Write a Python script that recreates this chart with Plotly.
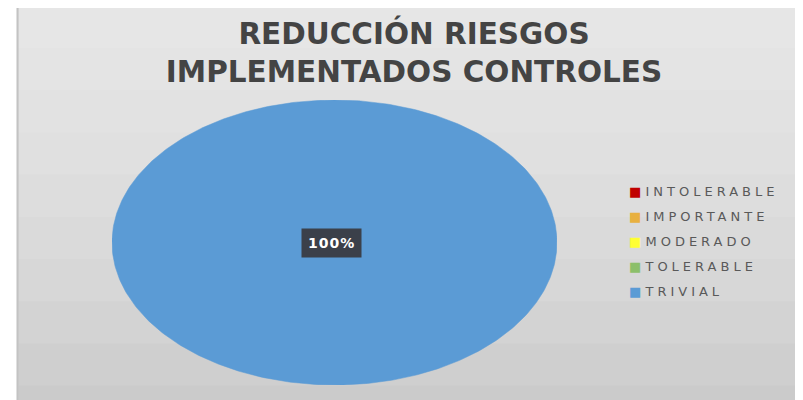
import numpy as np
import plotly.graph_objects as go

title_lines = ["REDUCCIÓN RIESGOS", "IMPLEMENTADOS CONTROLES"]
categories = ["INTOLERABLE", "IMPORTANTE", "MODERADO", "TOLERABLE", "TRIVIAL"]
values = [0, 0, 0, 0, 100]
colors = ["#c00000", "#e8b040", "#ffff33", "#8cbf6a", "#5b9bd5"]

W, H = 803, 400
OFF = 8  # page body margin


def px(x):
    return (x - OFF) / W


def py(y):
    return (H - (y - OFF)) / H


fig = go.Figure()

# background (chart area with soft vertical gradient)
fig.add_shape(type="rect", xref="paper", yref="paper", x0=px(17), x1=1.02, y0=-0.05, y1=py(5),
              fillcolor="#c6c6c6", line=dict(color="#c0c0c0", width=1), layer="below")
nb = 10
for i in range(nb):
    frac = (i + 1) / nb
    top = py(5) - 0.002
    fig.add_shape(type="rect", xref="paper", yref="paper", x0=px(17) + 0.002, x1=1.02,
                  y0=top - frac * (top + 0.05), y1=top,
                  fillcolor="rgba(255,255,255,0.09)", line=dict(width=0), layer="below")

# pie drawn as ellipse wedges (Excel-like stretched pie)
total = sum(values)
start = 0.0
for cat, val, col in zip(categories, values, colors):
    frac = val / total
    if frac > 0:
        a0 = np.pi / 2 - 2 * np.pi * start
        a1 = np.pi / 2 - 2 * np.pi * (start + frac)
        t = np.linspace(a0, a1, 400)
        if frac < 1:
            xs = np.concatenate([[0], np.cos(t), [0]])
            ys = np.concatenate([[0], np.sin(t), [0]])
            mid = (a0 + a1) / 2
            lp = (0.6 * np.cos(mid), 0.6 * np.sin(mid))
        else:
            xs = np.cos(t)
            ys = np.sin(t)
            lp = (0, 0)
        fig.add_trace(go.Scatter(x=xs, y=ys, fill="toself", fillcolor=col, mode="lines",
                                 line=dict(color=col, width=0.5), showlegend=False,
                                 hoverinfo="skip"))
        fig.add_annotation(x=lp[0] - 0.015, y=lp[1], xref="x", yref="y",
                           text=f"<b><span style='letter-spacing:1px'>{frac*100:.0f}%</span></b>",
                           showarrow=False,
                           font=dict(family="DejaVu Sans", size=14, color="white"),
                           bgcolor="#3b404a", borderpad=6)
    start += frac

# legend entries (square glyph kept next to the text, like the original)
for i, (cat, col) in enumerate(zip(categories, colors)):
    fig.add_trace(go.Scatter(
        x=[None], y=[None], mode="markers", legendgroup=f"g{i}",
        name=f"<span style='color:{col}'>■</span> <span style='letter-spacing:4px'>{cat}</span>",
        marker=dict(symbol="square", size=1, color="rgba(0,0,0,0)")))

fig.update_layout(
    width=W, height=H,
    margin=dict(l=0, r=0, t=0, b=0),
    paper_bgcolor="white",
    plot_bgcolor="rgba(0,0,0,0)",
    xaxis=dict(domain=[px(112), px(557)], range=[-1, 1], visible=False, fixedrange=True),
    yaxis=dict(domain=[py(385), py(100)], range=[-1, 1], visible=False, fixedrange=True),
    title=dict(text="<b>" + "<br>".join(title_lines) + "</b>", x=px(414), xanchor="center",
               y=py(44), yanchor="middle",
               font=dict(family="DejaVu Sans", size=29.5, color="#444444")),
    legend=dict(x=px(589), y=py(176), xanchor="left", yanchor="top",
                font=dict(family="DejaVu Sans", size=13, color="#595959"),
                bgcolor="rgba(0,0,0,0)", tracegroupgap=5, itemwidth=30),
    showlegend=True,
)

fig.write_html("out.html")
